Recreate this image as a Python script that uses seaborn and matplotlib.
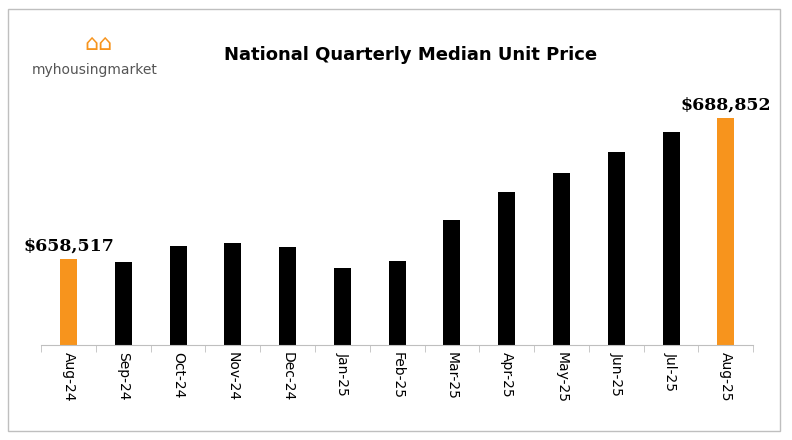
import matplotlib
matplotlib.use("Agg")
import matplotlib.pyplot as plt
import seaborn as sns
import pandas as pd

months = ["Aug-24","Sep-24","Oct-24","Nov-24","Dec-24","Jan-25","Feb-25","Mar-25","Apr-25","May-25","Jun-25","Jul-25","Aug-25"]
prices = [658517,657870,661390,662030,661170,656650,658150,666970,672990,677070,681590,685890,688852]
colors = ["#F7941D"] + ["#000000"]*11 + ["#F7941D"]

df = pd.DataFrame({"month": months, "price": prices})
fig = plt.figure(figsize=(7.92,4.40), dpi=100)
ax = fig.add_axes([0.052, 0.216, 0.899, 0.575])
sns.barplot(data=df, x="month", y="price", hue="month", palette=colors, legend=False,
            width=0.31, saturation=1, ax=ax)
ax.set_ylim(640000, 694450)
ax.set_xlim(-0.5, len(months)-0.5)
ax.set_xlabel(""); ax.set_ylabel("")
ax.set_yticks([])
for s in ["top","right","left"]:
    ax.spines[s].set_visible(False)
ax.spines["bottom"].set_color("#BFBFBF")
ax.set_xticks(range(len(months)))
ax.set_xticklabels(months, rotation=-90, fontsize=10)
ax.set_xticks([i+0.5 for i in range(-1, len(months))], minor=True)
ax.tick_params(axis="x", which="major", length=0, pad=5)
ax.tick_params(axis="x", which="minor", length=5, color="#BFBFBF")
for i in (0, len(months)-1):
    ax.text(i, prices[i]+1000, f"${prices[i]:,}", ha="center", va="bottom", fontsize=12.5, fontweight="bold", family="DejaVu Serif")
fig.text(0.518, 0.875, "National Quarterly Median Unit Price", ha="center", va="center", fontsize=13, fontweight="bold")
fig.text(0.12, 0.84, "myhousingmarket", fontsize=10, color="#555555", ha="center", va="center")
fig.text(0.125, 0.9, "⌂⌂", fontsize=16, color="#F7941D", ha="center", va="center")
fig.patches.append(plt.Rectangle((0.01,0.02),0.975,0.96, transform=fig.transFigure, fill=False, edgecolor="#BFBFBF", lw=1))
fig.savefig("out.png", dpi=100, facecolor="white")
